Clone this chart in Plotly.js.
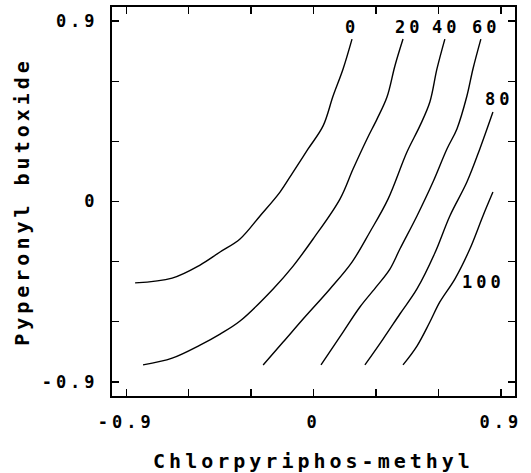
<!DOCTYPE html>
<html>
<head>
<meta charset="utf-8">
<script src="https://cdn.plot.ly/plotly-3.0.1.min.js"></script>
<style>
html,body{margin:0;padding:0;background:#fff;}
#chart{width:531px;height:473px;}
#chart text{letter-spacing:4px;}
</style>
</head>
<body>
<div id="chart"></div>
<script>
// Contour lines (x = Chlorpyriphos-methyl, y = Pyperonyl butoxide)
const c0_x = [-0.857,-0.679,-0.545,-0.449,-0.353,-0.257,-0.161,-0.098,-0.026,0.046,0.094,0.142,0.185];
const c0_y = [-0.406,-0.382,-0.317,-0.252,-0.187,-0.072,0.047,0.147,0.262,0.377,0.526,0.661,0.810];

const c20_x = [-0.819,-0.679,-0.545,-0.449,-0.353,-0.194,-0.098,-0.002,0.127,0.190,0.257,0.305,0.353,0.391,0.430];
const c20_y = [-0.815,-0.781,-0.716,-0.661,-0.596,-0.436,-0.322,-0.187,0.012,0.162,0.312,0.411,0.521,0.676,0.810];

const c40_x = [-0.242,-0.146,-0.050,0.079,0.185,0.271,0.358,0.449,0.511,0.559,0.593,0.631];
const c40_y = [-0.815,-0.701,-0.586,-0.436,-0.302,-0.152,0.012,0.247,0.377,0.496,0.661,0.810];

const c60_x = [0.036,0.142,0.223,0.305,0.367,0.415,0.497,0.574,0.641,0.689,0.737,0.766,0.804];
const c60_y = [-0.815,-0.651,-0.526,-0.421,-0.337,-0.237,-0.072,0.097,0.262,0.362,0.526,0.661,0.810];

const c80_x = [0.247,0.334,0.415,0.497,0.583,0.655,0.737,0.799,0.862];
const c80_y = [-0.815,-0.686,-0.561,-0.436,-0.257,-0.072,0.097,0.262,0.446];

const c100_x = [0.430,0.497,0.559,0.607,0.679,0.751,0.814,0.862];
const c100_y = [-0.815,-0.721,-0.601,-0.501,-0.387,-0.237,-0.072,0.047];

const levelLabels = ['0','20','40','60','80','100'];
const labelX = [0.185,0.458,0.636,0.828,0.890,0.815];
const labelY = [0.868,0.868,0.868,0.868,0.510,-0.400];

const tickVals = [-0.9,-0.6,-0.3,0,0.3,0.6,0.9];
const tickText = ['-0.9','','','0','','','0.9'];

const xTitle = 'Chlorpyriphos-methyl';
const yTitle = 'Pyperonyl butoxide';

const font = 'DejaVu Sans Mono, Liberation Mono, monospace';

const lines = [[c0_x,c0_y],[c20_x,c20_y],[c40_x,c40_y],[c60_x,c60_y],[c80_x,c80_y],[c100_x,c100_y]];
const traces = lines.map((l,i)=>({
  x:l[0], y:l[1], type:'scatter', mode:'lines', name:levelLabels[i],
  line:{color:'#000', width:1.4, shape:'spline', smoothing:1.0}, hoverinfo:'skip'
}));

const annotations = levelLabels.map((t,i)=>({
  x:labelX[i], y:labelY[i], xref:'x', yref:'y', text:t, showarrow:false,
  xanchor:'center', yanchor:'middle',
  font:{family:font, size:17, color:'#000', weight:'bold'}
}));

const axisCommon = {
  tickmode:'array', tickvals:tickVals, ticktext:tickText,
  ticks:'inside', ticklen:7, tickwidth:1.3, tickcolor:'#000',
  showline:true, linecolor:'#000', linewidth:2, mirror:'ticks',
  showgrid:false, zeroline:false,
  tickfont:{family:font, size:17, color:'#000', weight:'bold'}
};

const layout = {
  width:531, height:473,
  margin:{l:112, r:16, t:7, b:77},
  paper_bgcolor:'#fff', plot_bgcolor:'#fff',
  showlegend:false,
  xaxis:Object.assign({}, axisCommon, {
    range:[-0.968,0.968], ticklabelstandoff:10,
    title:{text:xTitle, standoff:25, font:{family:font, size:20, color:'#000', weight:'bold'}}
  }),
  yaxis:Object.assign({}, axisCommon, {
    range:[-0.97,0.97], ticklabelstandoff:8,
    title:{text:yTitle, standoff:23, font:{family:font, size:20, color:'#000', weight:'bold'}}
  }),
  annotations:annotations
};

Plotly.newPlot('chart', traces, layout, {displayModeBar:false, staticPlot:true});
</script>
</body>
</html>
